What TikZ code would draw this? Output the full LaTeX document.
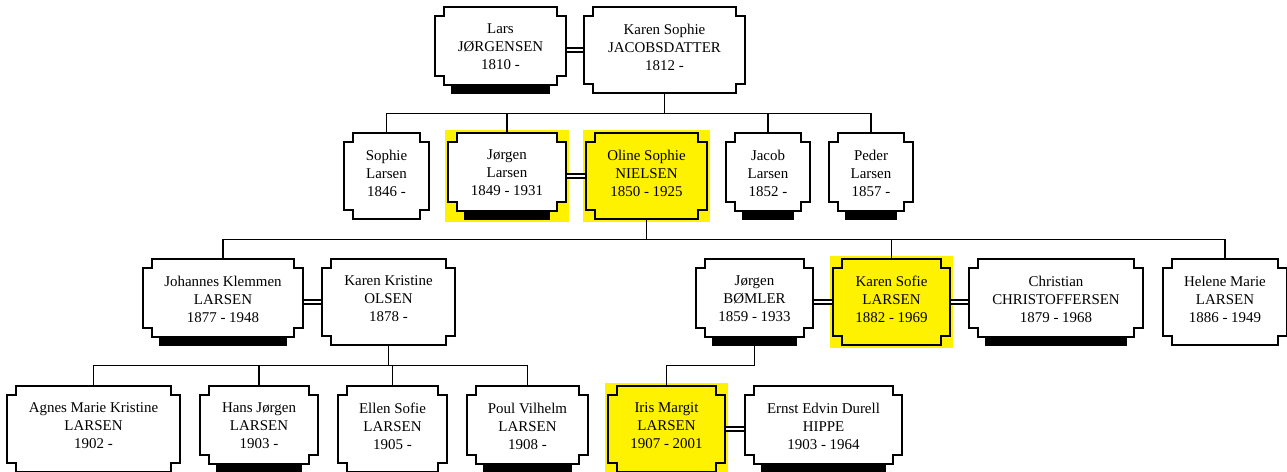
\documentclass[tikz,border=0pt]{standalone}
\usepackage{fontspec}
\setmainfont{Liberation Serif}
\usetikzlibrary{calc,backgrounds}

% notched box round a node: #1 node, #2 fill, #3 raise of the bottom (px)
\newcommand{\notchbox}[3]{%
  \filldraw[boxline, fill=#2]
    ($(#1.north west)+(9,3)$) -- ($(#1.north east)+(-9,3)$) -- ++(0,9) -- ++(9,0)
    -- ($(#1.south east)+(0,-6-#3)$) -- ++(-9,0) -- ++(0,9)
    -- ($(#1.south west)+(9,3-#3)$) -- ++(0,-9) -- ++(-9,0)
    -- ($(#1.north west)+(0,12)$) -- ++(9,0) -- cycle;}

\begin{document}
\begin{tikzpicture}[x=0.02cm,y=-0.02cm,
    person/.style={inner sep=0pt, minimum height=1.72cm, align=center,
      font=\fontsize{8.5}{10.24}\selectfont},
    boxline/.style={line width=1.1pt, line join=miter},
    link/.style={line width=0.8pt},
    marriage/.style={double, line width=0.6pt, double distance=1.7pt},
    bar/.style={fill=black}]
  \useasboundingbox (0,0) rectangle (1287,472);
  \draw
    (500.5,47) node[person, minimum width=2.62cm] (lars){Lars\\JØRGENSEN\\1810 -}
    (664.5,47) node[person, minimum width=3.22cm] (karens){Karen Sophie\\JACOBSDATTER\\1812 -}
    (386.5,173) node[person, minimum width=1.70cm] (sophie){Sophie\\Larsen\\1846 -}
    (507,173) node[person, minimum width=2.36cm] (jorgen){Jørgen\\Larsen\\1849 - 1931}
    (646.5,173) node[person, minimum width=2.42cm] (oline){Oline Sophie\\NIELSEN\\1850 - 1925}
    (768,173) node[person, minimum width=1.68cm] (jacob){Jacob\\Larsen\\1852 -}
    (871,173) node[person, minimum width=1.68cm] (peder){Peder\\Larsen\\1857 -}
    (223,299) node[person, minimum width=3.20cm] (johannes){Johannes Klemmen\\LARSEN\\1877 - 1948}
    (388.5,299) node[person, minimum width=2.66cm] (karenk){Karen Kristine\\OLSEN\\1878 -}
    (754.5,299) node[person, minimum width=2.34cm] (bomler){Jørgen\\BØMLER\\1859 - 1933}
    (891.5,299) node[person, minimum width=2.34cm] (karensofie){Karen Sofie\\LARSEN\\1882 - 1969}
    (1056,299) node[person, minimum width=3.48cm] (christian){Christian\\CHRISTOFFERSEN\\1879 - 1968}
    (1225,299) node[person, minimum width=2.48cm] (helene){Helene Marie\\LARSEN\\1886 - 1949}
    (93.5,426) node[person, minimum width=3.46cm] (agnes){Agnes Marie Kristine\\LARSEN\\1902 -}
    (259,426) node[person, minimum width=2.36cm] (hans){Hans Jørgen\\LARSEN\\1903 -}
    (392.5,426) node[person, minimum width=2.18cm] (ellen){Ellen Sofie\\LARSEN\\1905 -}
    (527.5,426) node[person, minimum width=2.42cm] (poul){Poul Vilhelm\\LARSEN\\1908 -}
    (666.5,426) node[person, minimum width=2.34cm] (iris){Iris Margit\\LARSEN\\1907 - 2001}
    (823.5,426) node[person, minimum width=3.14cm] (ernst){Ernst Edvin Durell\\HIPPE\\1903 - 1964};
  \coordinate (fam1) at ($(karens.south)+(0,23)$);
  \coordinate (fam2) at ($(oline.south)+(0,23)$);
  \coordinate (fam3) at ($(karenk.south)+(0,23)$);
  \coordinate (fam4) at ($(bomler.south)+(0,23)$);
  \begin{scope}[on background layer]
    % highlighted persons
    \fill[yellow] ($(jorgen.north west)+(-3,0)$) rectangle ($(jorgen.south east)+(3,6)$);
    \fill[yellow] ($(oline.north west)+(-3,0)$) rectangle ($(oline.south east)+(3,6)$);
    \fill[yellow] ($(karensofie.north west)+(-3,0)$) rectangle ($(karensofie.south east)+(3,6)$);
    \fill[yellow] ($(iris.north west)+(-3,0)$) rectangle ($(iris.south east)+(3,6)$);
    % children
    \draw[link] ($(karens.south)+(0,3)$) -- (fam1);
    \draw[link] (sophie.north |- fam1) -- (peder.north |- fam1);
    \draw[link] (sophie.north |- fam1) -- ($(sophie.north)+(0,3)$);
    \draw[link] (jorgen.north |- fam1) -- ($(jorgen.north)+(0,3)$);
    \draw[link] (jacob.north |- fam1) -- ($(jacob.north)+(0,3)$);
    \draw[link] (peder.north |- fam1) -- ($(peder.north)+(0,3)$);
    \draw[link] ($(oline.south)+(0,3)$) -- (fam2);
    \draw[link] (johannes.north |- fam2) -- (helene.north |- fam2);
    \draw[link] (johannes.north |- fam2) -- ($(johannes.north)+(0,3)$);
    \draw[link] (karensofie.north |- fam2) -- ($(karensofie.north)+(0,3)$);
    \draw[link] (helene.north |- fam2) -- ($(helene.north)+(0,3)$);
    \draw[link] ($(karenk.south)+(0,3)$) -- (fam3);
    \draw[link] (agnes.north |- fam3) -- (poul.north |- fam3);
    \draw[link] (agnes.north |- fam3) -- ($(agnes.north)+(0,3)$);
    \draw[link] (hans.north |- fam3) -- ($(hans.north)+(0,3)$);
    \draw[link] (ellen.north |- fam3) -- ($(ellen.north)+(0,3)$);
    \draw[link] (poul.north |- fam3) -- ($(poul.north)+(0,3)$);
    \draw[link] ($(bomler.south)+(0,4)$) -- (fam4) -| ($(iris.north)+(0,3)$);
    % marriages
    \draw[marriage] ($(lars.east)+(0,3)$) -- ($(karens.west)+(0,3)$);
    \draw[marriage] ($(jorgen.east)+(0,3)$) -- ($(oline.west)+(0,3)$);
    \draw[marriage] ($(johannes.east)+(0,3)$) -- ($(karenk.west)+(0,3)$);
    \draw[marriage] ($(bomler.east)+(0,3)$) -- ($(karensofie.west)+(0,3)$);
    \draw[marriage] ($(karensofie.east)+(0,3)$) -- ($(christian.west)+(0,3)$);
    \draw[marriage] ($(iris.east)+(0,3)$) -- ($(ernst.west)+(0,3)$);
    % boxes
    \notchbox{lars}{white}{8}
    \notchbox{karens}{white}{0}
    \notchbox{sophie}{white}{0}
    \notchbox{jorgen}{white}{8}
    \notchbox{oline}{yellow}{0}
    \notchbox{jacob}{white}{8}
    \notchbox{peder}{white}{8}
    \notchbox{johannes}{white}{8}
    \notchbox{karenk}{white}{0}
    \notchbox{bomler}{white}{8}
    \notchbox{karensofie}{yellow}{0}
    \notchbox{christian}{white}{8}
    \notchbox{helene}{white}{0}
    \notchbox{agnes}{white}{0}
    \notchbox{hans}{white}{8}
    \notchbox{ellen}{white}{0}
    \notchbox{poul}{white}{8}
    \notchbox{iris}{yellow}{0}
    \notchbox{ernst}{white}{8}
    % bars under boxes
    \fill[bar] ($(lars.south west)+(16,-5)$) rectangle ($(lars.south east)+(-16,4)$);
    \fill[bar] ($(jorgen.south west)+(16,-5)$) rectangle ($(jorgen.south east)+(-16,4)$);
    \fill[bar] ($(jacob.south west)+(16,-5)$) rectangle ($(jacob.south east)+(-16,4)$);
    \fill[bar] ($(peder.south west)+(16,-5)$) rectangle ($(peder.south east)+(-16,4)$);
    \fill[bar] ($(johannes.south west)+(16,-5)$) rectangle ($(johannes.south east)+(-16,4)$);
    \fill[bar] ($(bomler.south west)+(16,-5)$) rectangle ($(bomler.south east)+(-16,4)$);
    \fill[bar] ($(christian.south west)+(16,-5)$) rectangle ($(christian.south east)+(-16,4)$);
    \fill[bar] ($(hans.south west)+(16,-5)$) rectangle ($(hans.south east)+(-16,4)$);
    \fill[bar] ($(poul.south west)+(16,-5)$) rectangle ($(poul.south east)+(-16,4)$);
    \fill[bar] ($(ernst.south west)+(16,-5)$) rectangle ($(ernst.south east)+(-16,4)$);
  \end{scope}
\end{tikzpicture}
\end{document}
